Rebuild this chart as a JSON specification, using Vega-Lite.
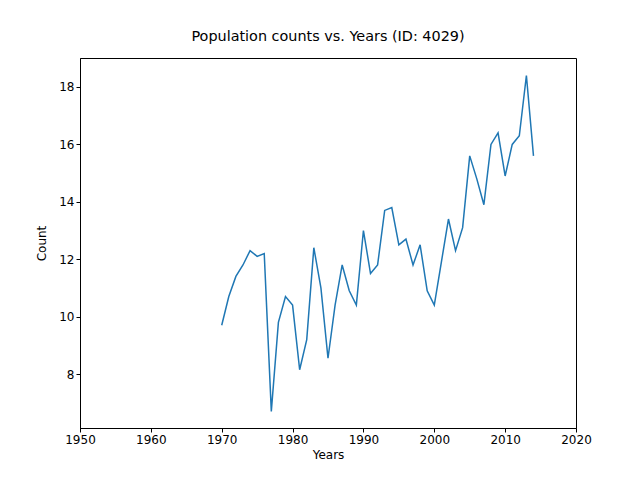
{
  "$schema": "https://vega.github.io/schema/vega-lite/v6.json",
  "autosize": {"type": "none"},
  "padding": {"left": 80, "top": 58, "right": 64, "bottom": 52},
  "width": 496,
  "height": 370,
  "background": "white",
  "title": {"text": "Population counts vs. Years (ID: 4029)", "font": "DejaVu Sans", "fontSize": 14.4, "fontWeight": "normal", "offset": 14},
  "config": {
    "view": {"stroke": "black", "strokeWidth": 1},
    "axis": {"labelFont": "DejaVu Sans", "titleFont": "DejaVu Sans", "labelFontSize": 12, "titleFontSize": 12, "titleFontWeight": "normal", "grid": false, "domainColor": "black", "tickColor": "black", "labelColor": "black", "titleColor": "black", "tickSize": 4, "labelFlush": false}
  },
  "data": {"values": [
    {"year": 1970, "count": 9.7}, {"year": 1971, "count": 10.7}, {"year": 1972, "count": 11.4},
    {"year": 1973, "count": 11.8}, {"year": 1974, "count": 12.3}, {"year": 1975, "count": 12.1},
    {"year": 1976, "count": 12.2}, {"year": 1977, "count": 6.7}, {"year": 1978, "count": 9.8},
    {"year": 1979, "count": 10.7}, {"year": 1980, "count": 10.4}, {"year": 1981, "count": 8.15},
    {"year": 1982, "count": 9.2}, {"year": 1983, "count": 12.4}, {"year": 1984, "count": 11.0},
    {"year": 1985, "count": 8.55}, {"year": 1986, "count": 10.4}, {"year": 1987, "count": 11.8},
    {"year": 1988, "count": 10.9}, {"year": 1989, "count": 10.4}, {"year": 1990, "count": 13.0},
    {"year": 1991, "count": 11.5}, {"year": 1992, "count": 11.8}, {"year": 1993, "count": 13.7},
    {"year": 1994, "count": 13.8}, {"year": 1995, "count": 12.5}, {"year": 1996, "count": 12.7},
    {"year": 1997, "count": 11.8}, {"year": 1998, "count": 12.5}, {"year": 1999, "count": 10.9},
    {"year": 2000, "count": 10.4}, {"year": 2001, "count": 11.9}, {"year": 2002, "count": 13.4},
    {"year": 2003, "count": 12.3}, {"year": 2004, "count": 13.1}, {"year": 2005, "count": 15.6},
    {"year": 2006, "count": 14.8}, {"year": 2007, "count": 13.9}, {"year": 2008, "count": 16.0},
    {"year": 2009, "count": 16.4}, {"year": 2010, "count": 14.9}, {"year": 2011, "count": 16.0},
    {"year": 2012, "count": 16.3}, {"year": 2013, "count": 18.4}, {"year": 2014, "count": 15.6}
  ]},
  "mark": {"type": "line", "color": "#1f77b4", "strokeWidth": 1.5},
  "encoding": {
    "x": {"field": "year", "type": "quantitative", "title": "Years",
      "scale": {"domain": [1950, 2020], "nice": false, "zero": false},
      "axis": {"values": [1950, 1960, 1970, 1980, 1990, 2000, 2010, 2020], "format": "d", "titlePadding": 4}},
    "y": {"field": "count", "type": "quantitative", "title": "Count",
      "scale": {"domain": [6.12, 19.01], "nice": false, "zero": false},
      "axis": {"values": [8, 10, 12, 14, 16, 18], "titlePadding": 10}}
  }
}
